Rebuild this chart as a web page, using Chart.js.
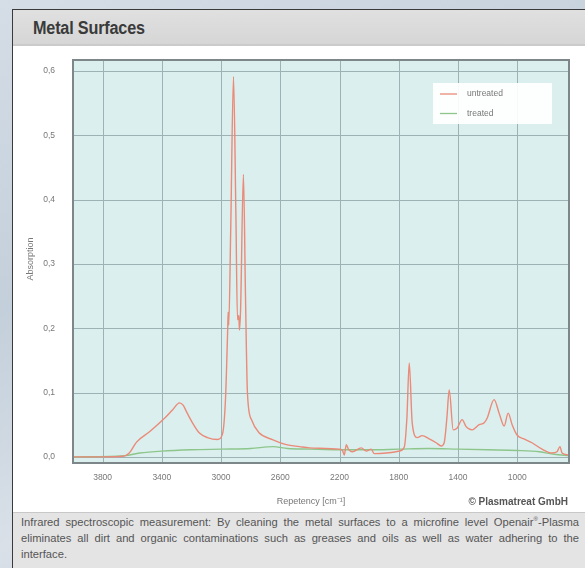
<!DOCTYPE html>
<html>
<head>
<meta charset="utf-8">
<script src="https://cdn.jsdelivr.net/npm/chart.js@4.4.1/dist/chart.umd.min.js"></script>
<style>
  html, body { margin:0; padding:0; width:585px; height:568px; overflow:hidden; }
  body { background: linear-gradient(160deg, #d5dde6 0%, #c3cfda 40%, #d9e0e8 70%, #c0ccd8 100%); position:relative; font-family: "Liberation Sans", Arial, sans-serif; }
  #card { position:absolute; left:12px; top:9px; width:590px; height:600px; border:1px solid #3a3a3a; background:#fff; }
  #titlebar { position:absolute; left:0; top:0; width:100%; height:34px; background:linear-gradient(#e0e0e0,#d6d6d6); border-bottom:2px solid #cbcbcb; }
  #titlebar span { position:absolute; left:20px; top:8px; font-weight:bold; font-size:18px; color:#3a3a3a; transform:scaleX(0.9); transform-origin:left center; letter-spacing:-0.2px; }
  #caption { position:absolute; left:0; top:502px; width:100%; height:100px; background:#e4e4e4; border-top:1px solid #c8c8c8; }
  #caption div { position:absolute; left:8px; width:558px; font-size:11.2px; color:#555; white-space:nowrap; text-align:justify; text-align-last:justify; }
  #c { position:absolute; left:0; top:0; }
</style>
</head>
<body>
<div id="card">
  <div id="titlebar"><span>Metal Surfaces</span></div>
  <div id="caption">
    <div style="top:3px">Infrared spectroscopic measurement: By cleaning the metal surfaces to a microfine level Openair<sup style="font-size:6px">®</sup>-Plasma</div>
    <div style="top:19px">eliminates all dirt and organic contaminations such as greases and oils as well as water adhering to the</div>
    <div style="top:35px; text-align-last:left">interface.</div>
  </div>
</div>
<canvas id="c" width="585" height="568"></canvas>
<script>
// ---- data ----
const untreatedX = [4000,3800,3660,3620,3571,3483,3382,3328,3281,3255,3233,3193,3146,3092,3024,2991,2970,2955,2952,2948,2935,2916,2900,2889,2880,2876,2868,2849,2835,2822,2795,2741,2653,2559,2471,2404,2201,2180,2168,2154,2140,2114,2053,2019,1986,1965,1884,1797,1763,1745,1729,1709,1675,1642,1594,1547,1513,1493,1475,1459,1432,1405,1372,1345,1304,1257,1223,1203,1156,1122,1088,1061,1034,1001,954,900,832,765,731,711,697,657];
const untreatedY = [0.0,0.0,0.001,0.006,0.023,0.039,0.060,0.073,0.084,0.080,0.070,0.053,0.037,0.030,0.027,0.035,0.090,0.200,0.225,0.205,0.350,0.591,0.380,0.213,0.220,0.197,0.230,0.439,0.250,0.100,0.058,0.037,0.027,0.019,0.016,0.014,0.012,0.010,0.003,0.019,0.012,0.008,0.014,0.009,0.012,0.005,0.006,0.009,0.015,0.060,0.146,0.053,0.030,0.033,0.028,0.022,0.017,0.022,0.060,0.104,0.042,0.045,0.058,0.047,0.042,0.050,0.053,0.060,0.089,0.068,0.048,0.068,0.050,0.034,0.028,0.022,0.012,0.006,0.008,0.016,0.006,0.003];
const treatedX = [4000,3650,3550,3400,3200,3000,2800,2650,2550,2400,2200,2000,1800,1600,1400,1200,1000,850,750,650];
const treatedY = [0.0,0.002,0.006,0.009,0.011,0.012,0.013,0.016,0.013,0.012,0.011,0.011,0.012,0.013,0.012,0.011,0.010,0.008,0.004,0.002];
const xTicks = [3800,3400,3000,2600,2200,1800,1400,1000];
const yTicks = [0.0,0.1,0.2,0.3,0.4,0.5,0.6];
const seriesNames = ["untreated","treated"];
const seriesColors = ["#ea8a78","#8cc68a"];
const xTitle = "Repetency [cm\u207B\u00B9]";
const yTitle = "Absorption";
const credit = "\u00A9 Plasmatreat GmbH";

const FONT = '"Liberation Sans",sans-serif';

const toPts = (xs, ys) => xs.map((x, i) => ({x, y: ys[i]}));

const decor = {
  id: 'decor',
  beforeDatasetsDraw(chart) {
    const {ctx, chartArea: a} = chart;
    ctx.save();
    ctx.fillStyle = '#dcefef';
    ctx.fillRect(a.left, a.top, a.right - a.left, a.bottom - a.top);
    ctx.strokeStyle = '#9db2b5';
    ctx.lineWidth = 1;
    const xs = chart.scales.x, ys = chart.scales.y;
    xTicks.forEach(v => { const p = Math.round(xs.getPixelForValue(v)) + 0.5; ctx.beginPath(); ctx.moveTo(p, a.top); ctx.lineTo(p, a.bottom); ctx.stroke(); });
    yTicks.forEach(v => { const p = Math.round(ys.getPixelForValue(v)) + 0.5; ctx.beginPath(); ctx.moveTo(a.left, p); ctx.lineTo(a.right, p); ctx.stroke(); });
    ctx.restore();
  },
  afterDraw(chart) {
    const {ctx, chartArea: a} = chart;
    ctx.save();
    ctx.strokeStyle = '#7d8789';
    ctx.lineWidth = 2;
    ctx.strokeRect(a.left, a.top, a.right - a.left, a.bottom - a.top);
    // legend
    ctx.fillStyle = 'rgba(255,255,255,0.92)';
    ctx.fillRect(433, 83, 119, 41);
    ctx.font = '8.5px ' + FONT;
    ctx.textBaseline = 'middle';
    seriesNames.forEach((n, i) => {
      const y = 94 + i * 19.5;
      ctx.strokeStyle = seriesColors[i];
      ctx.lineWidth = 1.3;
      ctx.beginPath(); ctx.moveTo(440, y); ctx.lineTo(457, y); ctx.stroke();
      ctx.fillStyle = '#777';
      ctx.fillText(n, 467, y);
    });
    // axis titles
    ctx.fillStyle = '#777';
    ctx.font = '9px ' + FONT;
    ctx.textAlign = 'center';
    ctx.fillText(xTitle, 311, 502);
    ctx.save();
    ctx.translate(31, 259);
    ctx.rotate(-Math.PI / 2);
    ctx.fillText(yTitle, 0, 0);
    ctx.restore();
    ctx.font = 'bold 10px ' + FONT;
    ctx.fillStyle = '#555';
    ctx.textAlign = 'right';
    ctx.fillText(credit, 568, 502);
    ctx.restore();
  }
};

new Chart(document.getElementById('c'), {
  type: 'scatter',
  data: {
    datasets: [
      { label: seriesNames[1], data: toPts(treatedX, treatedY), borderColor: seriesColors[1], borderWidth: 1.4, showLine: true, pointRadius: 0, cubicInterpolationMode: 'monotone', order: 2 },
      { label: seriesNames[0], data: toPts(untreatedX, untreatedY), borderColor: seriesColors[0], borderWidth: 1.4, showLine: true, pointRadius: 0, cubicInterpolationMode: 'monotone', order: 1 }
    ]
  },
  options: {
    responsive: false,
    animation: false,
    events: [],
    layout: { padding: { left: 0, right: 16, top: 60, bottom: 70 } },
    plugins: { legend: { display: false }, tooltip: { enabled: false } },
    scales: {
      x: {
        type: 'linear', reverse: true, min: 650, max: 4000,
        afterBuildTicks: s => { s.ticks = xTicks.map(v => ({value: v})); },
        afterFit: s => { s.height = 35; },
        grid: { display: false, drawTicks: false },
        border: { display: false },
        ticks: { padding: 10, color: '#777', font: { family: FONT, size: 8.5 }, callback: v => String(v) }
      },
      y: {
        min: -0.0095, max: 0.617,
        afterBuildTicks: s => { s.ticks = yTicks.map(v => ({value: v})); },
        afterFit: s => { s.width = 73; },
        grid: { display: false, drawTicks: false },
        border: { display: false },
        ticks: { padding: 18, color: '#777', font: { family: FONT, size: 8.5 }, callback: v => v.toFixed(1).replace('.', ',') }
      }
    }
  },
  plugins: [decor]
});
</script>
</body>
</html>
